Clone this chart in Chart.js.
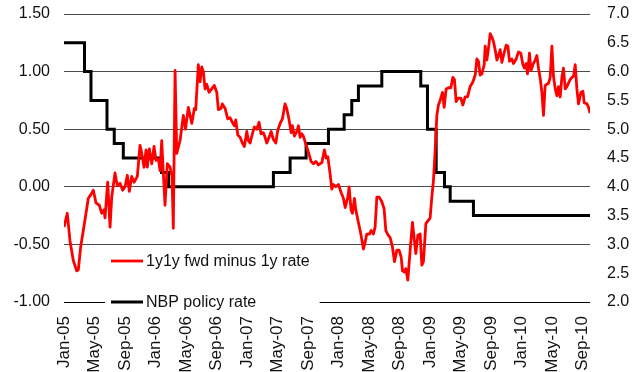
<!DOCTYPE html>
<html>
<head>
<meta charset="utf-8">
<script src="https://cdn.jsdelivr.net/npm/chart.js@4.4.1/dist/chart.umd.min.js"></script>
<style>
  html, body { margin: 0; padding: 0; background: #fff; }
  #wrap { width: 640px; height: 372px; }
</style>
</head>
<body>
<div id="wrap"><canvas id="chart" width="640" height="372"></canvas></div>
<script>
// x positions are months counted from Jan-05
const tickMonths = [0, 4, 8, 12, 16, 20, 24, 28, 32, 36, 40, 44, 48, 52, 56, 60, 64, 68];
const tickLabels = ['Jan-05', 'May-05', 'Sep-05', 'Jan-06', 'May-06', 'Sep-06', 'Jan-07', 'May-07', 'Sep-07',
  'Jan-08', 'May-08', 'Sep-08', 'Jan-09', 'May-09', 'Sep-09', 'Jan-10', 'May-10', 'Sep-10'];

// 1y1y forward minus 1y rate, [month, pp]
const fwdSpread = [
  [0.00, -0.35], [0.43, -0.23], [0.79, -0.47], [1.22, -0.64], [1.67, -0.73], [1.88, -0.72], [2.19, -0.52],
  [2.53, -0.38], [2.89, -0.23], [3.19, -0.10], [3.50, -0.07], [3.85, -0.03], [4.20, -0.14], [4.63, -0.16],
  [4.95, -0.23], [5.25, -0.20], [5.38, -0.27], [5.73, 0.04], [6.04, -0.35], [6.26, -0.09], [6.69, 0.12],
  [6.99, 0.01], [7.35, 0.03], [7.70, -0.03], [8.01, 0.00], [8.31, 0.10], [8.57, -0.04], [8.88, 0.09],
  [9.19, 0.04], [9.62, 0.09], [9.97, 0.36], [10.20, 0.29], [10.50, 0.17], [10.76, 0.32], [10.93, 0.17],
  [11.19, 0.33], [11.51, 0.20], [11.81, 0.35], [12.07, 0.23], [12.38, 0.24], [12.60, 0.14], [12.82, 0.40],
  [13.03, 0.12], [13.25, -0.16], [13.56, 0.20], [13.91, 0.17], [14.17, 0.09], [14.34, -0.36], [14.57, 1.01],
  [14.79, 0.29], [15.22, 0.40], [15.66, 0.62], [15.94, 0.50], [16.31, 0.69], [16.76, 0.55], [17.10, 0.68],
  [17.28, 0.67], [17.62, 1.06], [17.85, 0.91], [18.07, 1.04], [18.28, 1.00], [18.50, 0.85], [18.73, 0.89],
  [19.03, 0.82], [19.38, 0.85], [19.72, 0.88], [20.04, 0.82], [20.25, 0.67], [20.60, 0.68], [20.77, 0.72],
  [21.13, 0.68], [21.48, 0.59], [21.78, 0.60], [22.09, 0.56], [22.35, 0.53], [22.53, 0.58], [22.80, 0.45],
  [23.10, 0.43], [23.40, 0.38], [23.66, 0.35], [23.98, 0.48], [24.19, 0.40], [24.41, 0.38], [24.71, 0.46],
  [24.97, 0.52], [25.29, 0.50], [25.59, 0.56], [25.85, 0.46], [26.15, 0.47], [26.38, 0.43], [26.60, 0.38],
  [26.90, 0.43], [27.17, 0.48], [27.47, 0.41], [27.78, 0.38], [28.04, 0.49], [28.35, 0.55], [28.65, 0.59],
  [29.00, 0.72], [29.22, 0.68], [29.53, 0.58], [29.79, 0.47], [29.96, 0.53], [30.22, 0.44], [30.54, 0.48],
  [30.75, 0.53], [30.97, 0.43], [31.19, 0.46], [31.40, 0.44], [31.63, 0.39], [32.06, 0.30], [32.41, 0.22],
  [32.72, 0.20], [33.03, 0.22], [33.37, 0.19], [33.82, 0.21], [34.16, 0.32], [34.38, 0.25], [34.61, 0.26],
  [34.91, 0.11], [35.13, -0.02], [35.34, 0.02], [35.66, 0.00], [36.00, 0.02], [36.35, -0.05], [36.65, -0.10],
  [36.88, -0.18], [37.23, -0.09], [37.40, 0.00], [37.66, -0.20], [37.83, -0.23], [38.10, -0.10], [38.28, -0.20],
  [38.62, -0.31], [38.94, -0.41], [39.28, -0.54], [39.50, -0.48], [39.72, -0.41], [40.07, -0.41], [40.29, -0.38],
  [40.59, -0.41], [40.81, -0.35], [41.04, -0.09], [41.34, -0.09], [41.69, -0.13], [41.99, -0.19], [42.22, -0.38],
  [42.52, -0.42], [42.78, -0.44], [43.08, -0.52], [43.35, -0.65], [43.66, -0.55], [43.96, -0.55], [44.23, -0.61],
  [44.40, -0.73], [44.66, -0.74], [44.84, -0.71], [45.10, -0.81], [45.41, -0.55], [45.71, -0.31], [45.97, -0.47],
  [46.15, -0.58], [46.42, -0.42], [46.72, -0.41], [46.94, -0.68], [47.15, -0.65], [47.47, -0.32], [47.81, -0.29],
  [48.03, -0.27], [48.25, -0.09], [48.46, 0.05], [48.69, 0.32], [48.91, 0.62], [49.12, 0.71], [49.34, 0.75],
  [49.65, 0.82], [49.87, 0.69], [50.13, 0.85], [50.43, 0.86], [50.75, 0.86], [51.01, 0.95], [51.22, 0.93],
  [51.44, 0.74], [51.74, 0.77], [52.06, 0.77], [52.32, 0.71], [52.62, 0.78], [52.93, 0.78], [53.28, 0.87],
  [53.63, 0.91], [53.94, 0.97], [54.16, 1.11], [54.37, 1.09], [54.59, 0.97], [54.82, 0.98], [55.12, 1.06],
  [55.25, 1.22], [55.47, 1.10], [55.68, 1.20], [55.91, 1.33], [56.13, 1.30], [56.34, 1.26], [56.56, 1.19],
  [56.79, 1.10], [57.00, 1.14], [57.22, 1.19], [57.44, 1.08], [57.65, 1.14], [58.01, 1.23], [58.23, 1.22],
  [58.44, 1.09], [58.75, 1.11], [58.96, 1.07], [59.32, 1.11], [59.62, 1.17], [59.93, 1.16], [60.20, 1.06],
  [60.41, 1.03], [60.63, 1.07], [60.80, 0.98], [61.06, 1.16], [61.25, 1.01], [61.51, 1.06], [61.81, 1.10],
  [62.03, 1.14], [62.24, 1.03], [62.47, 0.94], [62.69, 0.82], [62.90, 0.62], [63.12, 0.88], [63.35, 0.89],
  [63.56, 0.90], [63.78, 0.95], [64.00, 1.22], [64.21, 0.96], [64.44, 0.85], [64.66, 0.79], [64.87, 0.87],
  [65.09, 0.78], [65.31, 0.95], [65.52, 1.03], [65.75, 0.85], [65.97, 0.87], [66.18, 0.90], [66.40, 0.93],
  [66.63, 0.95], [66.84, 0.96], [67.06, 1.06], [67.28, 0.85], [67.49, 0.72], [67.81, 0.82], [68.07, 0.83],
  [68.24, 0.73], [68.60, 0.72], [68.81, 0.69], [69.00, 0.64]
];

// NBP reference rate: month of each change and the new level (%)
const policyMonths = [0, 2.69, 3.54, 5.64, 6.59, 7.78, 12.80, 13.71, 27.47, 29.66, 31.76, 34.69, 36.75,
  37.75, 38.62, 41.69, 46.80, 47.68, 48.82, 49.91, 50.66, 53.71, 69];
const policyRates = [6.5, 6.0, 5.5, 5.0, 4.75, 4.5, 4.25, 4.0, 4.25, 4.5, 4.75, 5.0, 5.25,
  5.5, 5.75, 6.0, 5.75, 5.0, 4.25, 4.0, 3.75, 3.5, 3.5];

const FONT = 'Arial, "Liberation Sans", sans-serif';

// legend sits inside the plot, on a white box that hides the gridline behind it
const insideLegend = {
  id: 'insideLegend',
  afterDatasetsDraw(chart, args, opts) {
    const { ctx, chartArea } = chart;
    const sets = chart.data.datasets;
    const x0 = chartArea.left + opts.offsetX;
    ctx.save();
    ctx.font = '16px ' + FONT;
    let maxW = 0;
    sets.forEach(ds => { maxW = Math.max(maxW, ctx.measureText(ds.label).width); });
    const rowY = sets.map((ds, i) => chartArea.bottom - opts.rowGap * (sets.length - 1 - i));
    ctx.fillStyle = '#fff';
    ctx.fillRect(x0 - 6, rowY[0] - 11, opts.lineLength + opts.gap + maxW + 16, rowY[sets.length - 1] - rowY[0] + 21);
    sets.forEach((ds, i) => {
      const y = rowY[i];
      ctx.strokeStyle = ds.borderColor;
      ctx.lineWidth = ds.borderWidth;
      ctx.beginPath();
      ctx.moveTo(x0, y);
      ctx.lineTo(x0 + opts.lineLength, y);
      ctx.stroke();
      ctx.fillStyle = '#111';
      ctx.textBaseline = 'middle';
      ctx.textAlign = 'left';
      ctx.fillText(ds.label, x0 + opts.lineLength + opts.gap, y + 1);
    });
    ctx.restore();
  }
};

// fixed axis widths; the label overhang of the value axes is not reserved
function fixWidth(w) {
  return scale => {
    scale.width = w;
    scale.paddingTop = 0;
    scale.paddingBottom = 0;
  };
}

const ctx = document.getElementById('chart').getContext('2d');
new Chart(ctx, {
  type: 'line',
  data: {
    datasets: [
      {
        label: '1y1y fwd minus 1y rate',
        data: fwdSpread.map(p => ({ x: p[0], y: p[1] })),
        yAxisID: 'y',
        borderColor: '#ff0000',
        borderWidth: 2.8,
        pointRadius: 0,
        tension: 0,
        borderJoinStyle: 'round'
      },
      {
        label: 'NBP policy rate',
        data: policyMonths.map((m, i) => ({ x: m, y: policyRates[i] })),
        yAxisID: 'y1',
        borderColor: '#000000',
        borderWidth: 3,
        pointRadius: 0,
        stepped: 'before'
      }
    ]
  },
  options: {
    responsive: false,
    animation: false,
    devicePixelRatio: 1,
    layout: { padding: { top: 14, left: 0, right: 0, bottom: 0 } },
    plugins: {
      legend: { display: false },
      tooltip: { enabled: false },
      insideLegend: { offsetX: 47, lineLength: 32, gap: 3, rowGap: 41 }
    },
    scales: {
      x: {
        type: 'linear',
        min: 0,
        max: 69,
        afterBuildTicks: scale => { scale.ticks = tickMonths.map(v => ({ value: v })); },
        afterFit: scale => { scale.height = 70; },
        grid: { display: false },
        border: { display: false },
        ticks: {
          minRotation: 90,
          maxRotation: 90,
          padding: 6,
          color: '#111',
          font: { family: FONT, size: 17 },
          callback: value => tickLabels[tickMonths.indexOf(value)]
        }
      },
      y: {
        position: 'left',
        min: -1,
        max: 1.5,
        afterFit: fixWidth(64),
        border: { display: false },
        grid: {
          drawTicks: false,
          lineWidth: 1,
          color: c => (c.tick && c.tick.value === -1 ? '#000' : '#4a4a4a')
        },
        ticks: {
          stepSize: 0.5,
          padding: 14,
          color: '#111',
          font: { family: FONT, size: 16 },
          callback: v => v.toFixed(2)
        }
      },
      y1: {
        position: 'right',
        min: 2,
        max: 7,
        afterFit: fixWidth(50),
        border: { display: false },
        grid: { display: false, drawTicks: false },
        ticks: {
          stepSize: 0.5,
          padding: 17,
          color: '#111',
          font: { family: FONT, size: 16 },
          callback: v => v.toFixed(1)
        }
      }
    }
  },
  plugins: [insideLegend]
});
</script>
</body>
</html>
